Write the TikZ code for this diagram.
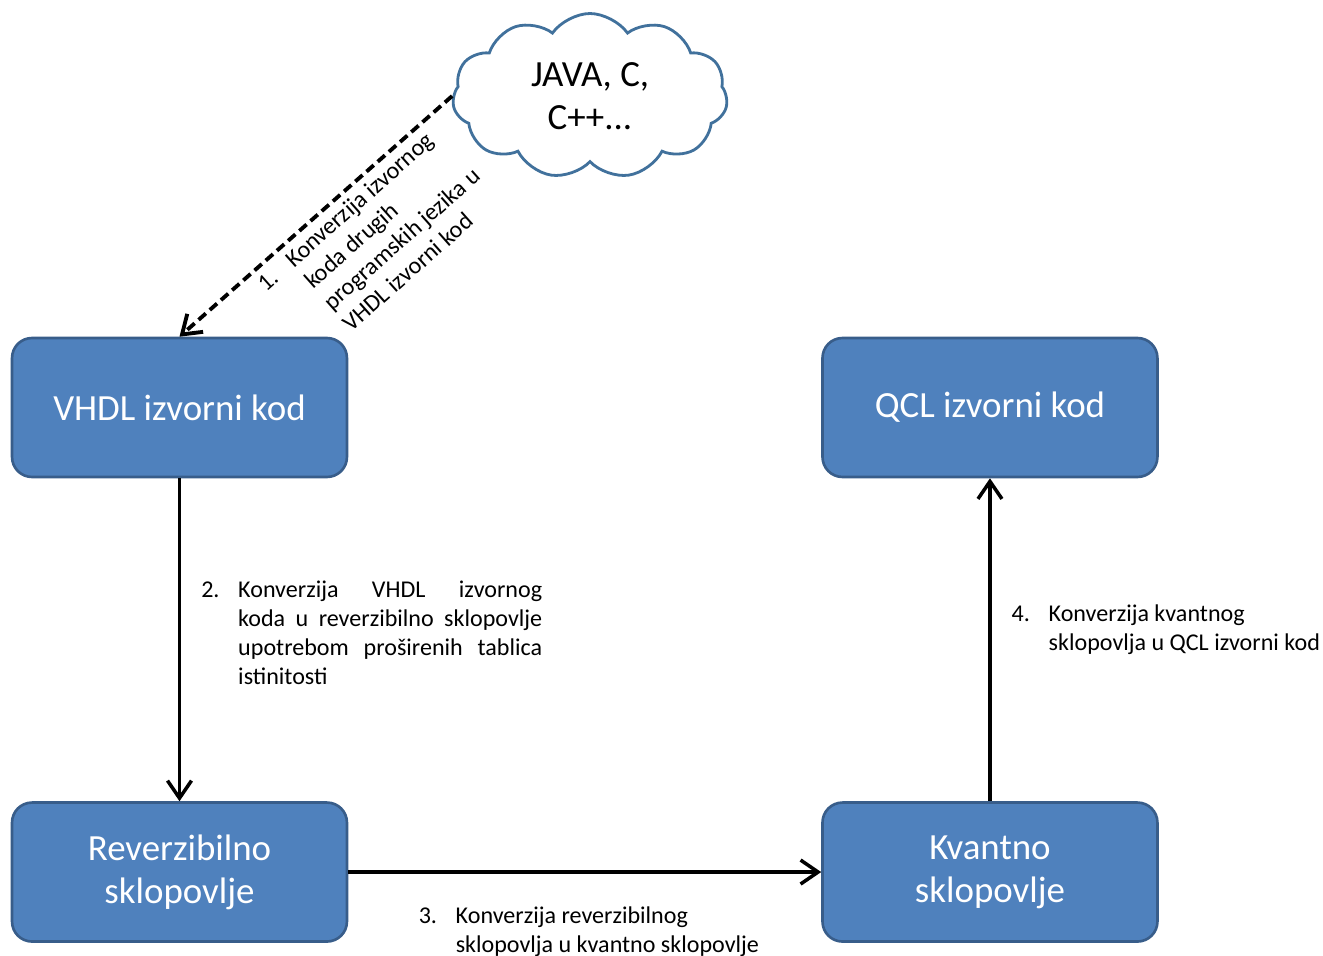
\documentclass[tikz,border=0pt]{standalone}
\usepackage{fontspec}
\setmainfont{Carlito}
\usetikzlibrary{arrows.meta, positioning, shapes.symbols}

\definecolor{boxfill}{RGB}{79,129,189}
\definecolor{boxline}{RGB}{56,93,138}
\definecolor{cloudline}{RGB}{65,113,156}

\newlength{\stepindent}
\setlength{\stepindent}{0.74cm}
% numbered step text with a hanging indent
\newcommand{\stepitem}[3]{\makebox[\stepindent][l]{#1}\parbox[t]{#2}{#3}}

\begin{document}
\begin{tikzpicture}[
    x = 0.02cm, y = -0.02cm,
    stage/.style = {
        rectangle, rounded corners = 0.4cm,
        draw = boxline, fill = boxfill, line width = 1.5pt,
        text = white,
        minimum width  = 6.7cm,
        minimum height = 2.78cm,
        align = center,
        font  = \fontsize{21}{24.5}\selectfont
    },
    langcloud/.style = {
        cloud, cloud puffs = 11, cloud puff arc = 110, aspect = 1.65,
        draw = cloudline, fill = white, line width = 1.6pt,
        minimum width = 5.5cm, minimum height = 3.3cm,
        align = center,
        font  = \fontsize{21}{24.5}\selectfont
    },
    convarrow/.style = { -{Straight Barb[length=3.5mm, width=4.8mm]}, line width = 2pt },
    steptext/.style  = { font = \fontsize{13.7}{16.4}\selectfont, inner sep = 0pt },
]

\useasboundingbox (0,0) rectangle (1323,956);

%% ── Boxes ────────────────────────────────────────────────────────────────
\node[stage] (vhdl) at (179.5,407.5) {VHDL izvorni kod};
\node[stage, below=6.46cm of vhdl] (rev) {Reverzibilno\\sklopovlje};
\node[stage, right=9.46cm of rev] (kvant) {Kvantno\\sklopovlje};
\node[stage, above=6.46cm of kvant] (qcl) {QCL izvorni kod};

\node[langcloud] (lang) at (590,96) {JAVA, C,\\C++...};

%% ── Conversion steps ─────────────────────────────────────────────────────
\draw[convarrow, dash pattern=on 5.5pt off 3pt, line width=2.2pt] (lang.west) -- (vhdl.north);
\node[steptext, rotate=41.6] (step1) at (382,237)
    {\stepitem{1.}{4.2cm}{\raggedright Konverzija izvornog\\koda drugih\\programskih jezika u\\VHDL izvorni kod}};

\draw[convarrow] (vhdl) -- (rev)
    node[steptext, midway, right=0.4cm, yshift=0.14cm]
        {\stepitem{2.}{6.08cm}{Konverzija VHDL izvornog\linebreak koda u reverzibilno sklopovlje\linebreak
         upotrebom proširenih tablica\linebreak istinitosti}};

\draw[convarrow] (rev) -- (kvant)
    node[steptext, midway, below=0.66cm, xshift=0.15cm]
        {\stepitem{3.}{6.2cm}{\raggedright Konverzija reverzibilnog\\sklopovlja u kvantno sklopovlje}};

\draw[convarrow] (kvant) -- (qcl)
    node[steptext, midway, right=0.4cm, yshift=0.2cm]
        {\stepitem{4.}{5.6cm}{\raggedright Konverzija kvantnog\\sklopovlja u QCL izvorni kod}};

\end{tikzpicture}
\end{document}
